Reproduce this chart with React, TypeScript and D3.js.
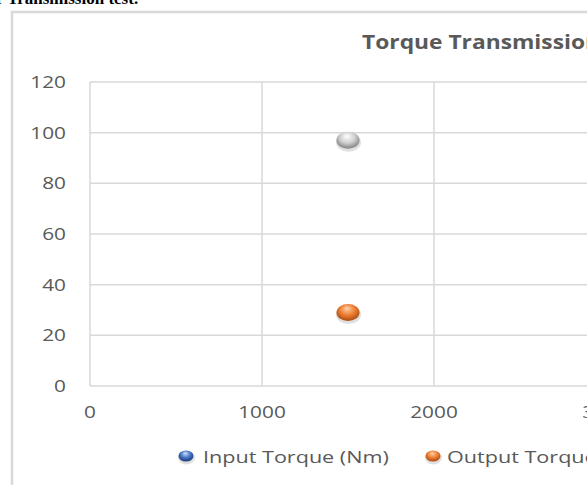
import React from "react";
import * as d3 from "d3";

const W = 587;
const H = 485;

const yTicks = [0, 20, 40, 60, 80, 100, 120];
const xTicks = [0, 1000, 2000, 3000];
const speedRpm = [1500];
const inputTorque = [97];
const outputTorque = [29];
const seriesNames = ["Input Torque (Nm)", "Output Torque (Nm)"];

const x = d3.scaleLinear().domain([0, 1000]).range([90, 262]);
const y = d3.scaleLinear().domain([0, 120]).range([386, 82]);

const GRID = "#d9d9d9";
const TXT = "#595959";
const FONT = "'Open Sans', 'DejaVu Sans', sans-serif";

function Sphere({ cx, cy, grad, rx = 11.5, ry = 8.5 }: any) {
  return (
    <g>
      <ellipse cx={cx + 0.5} cy={cy + 2} rx={rx + 1} ry={ry + 1} fill="#000" opacity={0.12} />
      <ellipse cx={cx} cy={cy} rx={rx} ry={ry} fill={`url(#${grad})`} />
    </g>
  );
}

function StretchText({ x0, y0, anchor = "start", sx = 1.3, size = 16, children, weight = 400, fill = TXT }: any) {
  return (
    <text
      transform={`translate(${x0},${y0}) scale(${sx},1)`}
      textAnchor={anchor}
      fontFamily={FONT}
      fontSize={size}
      fontWeight={weight}
      fill={fill}
    >
      {children}
    </text>
  );
}

export default function App() {
  const grads = [
    { id: "gGrey", hi: "#ffffff", mid: "#cfcfcf", lo: "#7f7f7f" },
    { id: "gOrange", hi: "#ffd3ad", mid: "#ed7d31", lo: "#a84c10" },
    { id: "gBlue", hi: "#cfe2f7", mid: "#4472c4", lo: "#1f3a73" },
  ];
  return (
    <svg
      width={W}
      height={H}
      style={{ position: "absolute", left: 0, top: 0, background: "#fff" }}
    >
      <defs>
        {grads.map((g) => (
          <radialGradient key={g.id} id={g.id} cx="50%" cy="40%" r="60%" fx="45%" fy="25%">
            <stop offset="0%" stopColor={g.hi} />
            <stop offset="55%" stopColor={g.mid} />
            <stop offset="100%" stopColor={g.lo} />
          </radialGradient>
        ))}
      </defs>

      {/* caption fragment above the chart */}
      <text x={-4} y={4} fontFamily="'Liberation Serif', 'Times New Roman', serif" fontWeight={700} fontSize={17} fill="#000">
        r Transmission test.
      </text>

      {/* chart frame */}
      <path d={`M12,${H} L12,12 L${W},12`} fill="none" stroke={GRID} strokeWidth={2.5} />

      {/* title */}
      <StretchText x0={362} y0={49} size={19} weight={700} sx={1.2}>
        Torque Transmission Test
      </StretchText>

      {/* horizontal gridlines */}
      {yTicks.map((t) => (
        <line key={"h" + t} x1={x(0)} x2={W} y1={y(t)} y2={y(t)} stroke={GRID} strokeWidth={1.5} />
      ))}
      {/* vertical gridlines */}
      {xTicks.map((t) => (
        <line key={"v" + t} x1={x(t)} x2={x(t)} y1={y(120)} y2={y(0)} stroke={GRID} strokeWidth={1.5} />
      ))}

      {/* y tick labels */}
      {yTicks.map((t) => (
        <StretchText key={"yl" + t} x0={66} y0={y(t) + 6} anchor="end">
          {t}
        </StretchText>
      ))}
      {/* x tick labels */}
      {xTicks.map((t) => (
        <StretchText key={"xl" + t} x0={x(t)} y0={418} anchor="middle">
          {t}
        </StretchText>
      ))}

      {/* points */}
      {speedRpm.map((s, i) => (
        <Sphere key={"in" + i} cx={x(s)} cy={y(inputTorque[i])} grad="gGrey" />
      ))}
      {speedRpm.map((s, i) => (
        <Sphere key={"out" + i} cx={x(s)} cy={y(outputTorque[i])} grad="gOrange" />
      ))}

      {/* legend */}
      <Sphere cx={186} cy={456} grad="gBlue" rx={7.5} ry={5.5} />
      <StretchText x0={203} y0={463} size={17} sx={1.27}>
        {seriesNames[0]}
      </StretchText>
      <Sphere cx={433} cy={456} grad="gOrange" rx={7.5} ry={5.5} />
      <StretchText x0={447} y0={463} size={17} sx={1.27}>
        {seriesNames[1]}
      </StretchText>
    </svg>
  );
}
